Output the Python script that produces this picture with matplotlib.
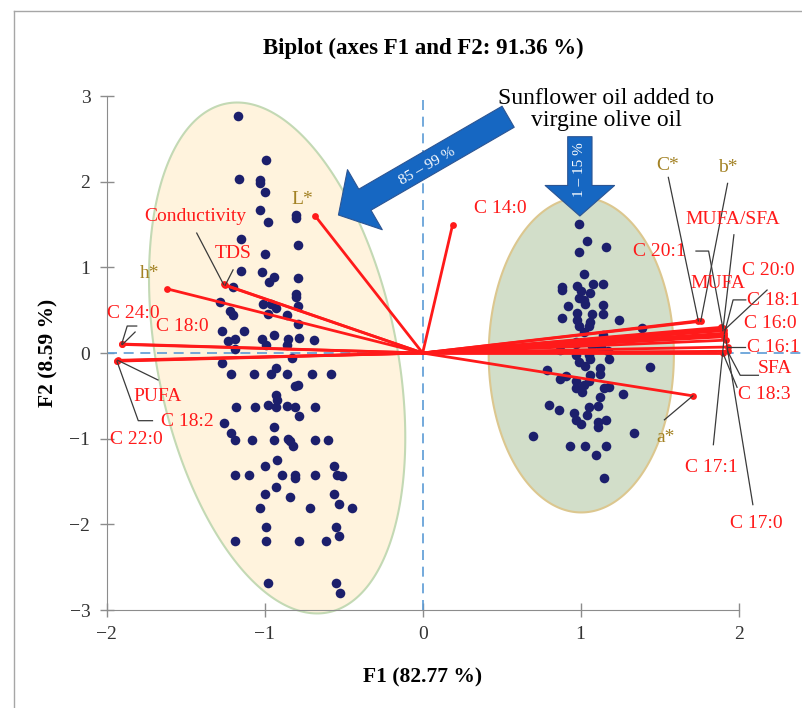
import numpy as np
import matplotlib.pyplot as plt
from matplotlib.lines import Line2D
from matplotlib.patches import Polygon

plt.rcParams['font.family'] = ['Liberation Serif', 'DejaVu Serif']

# Observations: virgin olive oil samples (left group)
olive_f1 = [-1.17, -0.99, -1.16, -1.03, -1.03, -1.00, -1.03, -0.98, -0.80, -0.80,
            -1.15, -0.79, -1.00, -1.15, -1.02, -0.94, -0.97, -0.79, -1.20, -0.80,
            -0.80, -1.28, -1.01, -0.96, -0.93, -0.79, -1.22, -1.20, -0.98, -0.86,
            -0.79, -1.27, -1.13, -0.94, -1.23, -1.19, -1.02, -0.99, -0.85, -0.86,
            -0.78, -0.69, -1.19, -0.83, -1.27, -1.21, -1.07, -0.96, -0.93, -0.86,
            -0.70, -0.58, -0.81, -0.79, -0.93, -0.92, -1.18, -1.06, -0.98, -0.93,
            -0.86, -0.81, -0.68, -0.78, -1.26, -0.94, -1.21, -1.19, -1.08, -0.94,
            -0.85, -0.84, -0.82, -0.68, -0.60, -0.92, -1.00, -0.56, -1.19, -1.10,
            -0.89, -0.81, -0.81, -0.68, -0.54, -0.51, -0.93, -1.00, -0.84, -0.56,
            -0.53, -1.03, -0.71, -0.45, -0.99, -0.55, -0.53, -1.19, -0.99, -0.78,
            -0.61, -0.98, -0.55, -0.52]
olive_f2 = [2.77, 2.25, 2.03, 2.02, 1.99, 1.88, 1.67, 1.53, 1.61, 1.58,
            1.33, 1.26, 1.15, 0.96, 0.94, 0.89, 0.83, 0.87, 0.77, 0.69,
            0.65, 0.60, 0.57, 0.57, 0.53, 0.55, 0.49, 0.44, 0.46, 0.44,
            0.34, 0.26, 0.26, 0.21, 0.14, 0.16, 0.16, 0.09, 0.16, 0.09,
            0.18, 0.15, 0.05, -0.06, -0.12, -0.25, -0.24, -0.25, -0.18, -0.24,
            -0.24, -0.24, -0.39, -0.37, -0.49, -0.55, -0.63, -0.63, -0.61, -0.63,
            -0.62, -0.63, -0.63, -0.74, -0.82, -0.86, -0.93, -1.02, -1.02, -1.02,
            -1.00, -1.03, -1.09, -1.02, -1.02, -1.25, -1.32, -1.32, -1.42, -1.42,
            -1.42, -1.42, -1.46, -1.42, -1.42, -1.44, -1.56, -1.65, -1.68, -1.65,
            -1.76, -1.81, -1.81, -1.81, -2.03, -2.03, -2.14, -2.20, -2.20, -2.20,
            -2.20, -2.69, -2.69, -2.80]

# Observations: olive oil with added sunflower oil (right group)
blend_f1 = [0.99, 1.04, 0.99, 1.16, 1.02, 0.88, 0.88, 0.98, 1.08, 1.14,
            1.00, 1.06, 0.99, 1.02, 0.92, 1.03, 1.14, 1.14, 0.98, 1.07,
            0.88, 0.98, 1.06, 1.24, 0.99, 1.05, 1.02, 1.39, 1.14, 0.97,
            0.97, 1.07, 1.13, 0.87, 1.17, 0.97, 1.05, 1.18, 0.99, 1.06,
            1.03, 0.79, 1.12, 1.12, 1.44, 0.91, 0.87, 1.06, 0.97, 1.05,
            1.02, 0.97, 1.01, 1.15, 1.18, 1.27, 1.12, 0.80, 0.86, 1.05,
            1.11, 0.96, 1.04, 0.97, 1.00, 1.11, 1.16, 1.11, 0.70, 1.34,
            0.93, 1.03, 1.16, 1.10, 1.15]
blend_f2 = [1.51, 1.31, 1.18, 1.24, 0.92, 0.77, 0.73, 0.78, 0.81, 0.81,
            0.72, 0.70, 0.64, 0.62, 0.55, 0.57, 0.56, 0.46, 0.47, 0.46,
            0.41, 0.38, 0.36, 0.38, 0.31, 0.32, 0.24, 0.29, 0.21, 0.13,
            0.10, 0.08, 0.07, 0.04, 0.02, -0.02, -0.02, -0.07, -0.10, -0.07,
            -0.15, -0.20, -0.18, -0.24, -0.16, -0.27, -0.30, -0.26, -0.33, -0.33,
            -0.37, -0.41, -0.45, -0.41, -0.40, -0.48, -0.51, -0.61, -0.66, -0.63,
            -0.62, -0.70, -0.72, -0.78, -0.83, -0.80, -0.78, -0.86, -0.97, -0.93,
            -1.09, -1.09, -1.09, -1.19, -1.46]

# Variables (loadings)
var_names = ['L*', 'C 14:0', 'h*', 'Conductivity', 'TDS', 'C 24:0', 'C 18:0',
             'C 22:0', 'PUFA', 'C 18:2', 'C*', 'b*', 'MUFA', 'C 20:1', 'C 20:0',
             'MUFA/SFA', 'C 18:1', 'C 17:1', 'C 16:0', 'C 17:0', 'C 16:1', 'SFA',
             'C 18:3', 'a*']
var_f1 = [-0.68, 0.19, -1.62, -1.26, -1.25, -1.905, -1.90,
          -1.935, -1.93, -1.935, 1.745, 1.76, 1.89, 1.90, 1.91,
          1.90, 1.91, 1.91, 1.91, 1.92, 1.93, 1.93,
          1.90, 1.71]
var_f2 = [1.60, 1.50, 0.75, 0.80, 0.79, 0.105, 0.10,
          -0.09, -0.085, -0.095, 0.375, 0.37, 0.30, 0.29, 0.27,
          0.26, 0.23, 0.21, 0.19, 0.15, 0.07, 0.02,
          0.00, -0.50]
color_vars = ['L*', 'a*', 'b*', 'C*', 'h*']

# Label placement (F1, F2, alignment) and leader-line bends
label_pos = {
    'L*': (-0.76, 1.79, 'center'), 'C 14:0': (0.49, 1.69, 'center'),
    'h*': (-1.73, 0.93, 'center'), 'Conductivity': (-1.44, 1.59, 'center'),
    'TDS': (-1.20, 1.16, 'center'), 'C 24:0': (-1.83, 0.46, 'center'),
    'C 18:0': (-1.52, 0.31, 'center'), 'C 22:0': (-1.81, -1.01, 'center'),
    'PUFA': (-1.68, -0.51, 'center'), 'C 18:2': (-1.49, -0.80, 'center'),
    'C*': (1.55, 2.19, 'center'), 'b*': (1.93, 2.17, 'center'),
    'MUFA': (1.87, 0.81, 'center'), 'C 20:1': (1.50, 1.18, 'center'),
    'C 20:0': (2.19, 0.96, 'center'), 'MUFA/SFA': (1.96, 1.56, 'center'),
    'C 18:1': (2.055, 0.61, 'left'), 'C 17:1': (1.83, -1.34, 'center'),
    'C 16:0': (2.20, 0.35, 'center'), 'C 17:0': (2.11, -1.99, 'center'),
    'C 16:1': (2.05, 0.07, 'left'), 'SFA': (2.23, -0.18, 'center'),
    'C 18:3': (2.16, -0.49, 'center'), 'a*': (1.54, -0.99, 'center'),
}
leaders = {
    'Conductivity': [(-1.43, 1.40)], 'TDS': [(-1.20, 0.97)],
    'C 24:0': [(-1.81, 0.315), (-1.87, 0.315)], 'C 18:0': [(-1.82, 0.245)],
    'PUFA': [(-1.675, -0.315)], 'C 18:2': [(-1.71, -0.79), (-1.80, -0.79)],
    'C*': [(1.555, 2.05)], 'b*': [(1.93, 1.98)],
    'MUFA/SFA': [(1.97, 1.38)], 'C 20:1': [(1.73, 1.19), (1.81, 1.19)],
    'C 20:0': [(2.18, 0.735)], 'C 18:1': [(2.045, 0.62), (1.965, 0.62)],
    'C 16:1': [(2.04, 0.07)], 'SFA': [(2.125, -0.26), (2.01, -0.26)],
    'C 18:3': [(1.99, -0.40)], 'C 17:1': [(1.84, -1.07)],
    'C 17:0': [(2.09, -1.77)], 'a*': [(1.53, -0.78)],
}

# Highlight ellipses: centre, half-extents along F1/F2 and correlation
ellipses = [
    dict(c=(-0.921, -0.058), s=(0.811, 2.982), rho=-0.312, fc='#FFF3DD', ec='#C3D9B4'),
    dict(c=(1.004, -0.023), s=(0.586, 1.838), rho=0.0, fc='#D2DEC9', ec='#DCC78F'),
]

# Blue block arrows: tail, tip, text, text rotation
arrows = [
    dict(tail=(0.541, 2.758), tip=(-0.533, 1.611), text='85 – 99 %', tpos=(0.03, 2.18), rot=30),
    dict(tail=(0.995, 2.525), tip=(0.995, 1.599), text='1 – 15 %', tpos=(0.993, 2.14), rot=90),
]

red = '#FF1A1A'
olive = '#A38224'
navy = '#1C1F6C'

fig = plt.figure(figsize=(8.02, 7.08), dpi=100)
ax = fig.add_axes([0.1330, 0.1384, 0.8668, 0.7260])
ax.set_xlim(-2, 2.4)
ax.set_ylim(-3, 3)

for e in ellipses:
    t = np.linspace(0, 2 * np.pi, 300)
    ex = e['c'][0] + e['s'][0] * np.cos(t)
    ey = e['c'][1] + e['s'][1] * (e['rho'] * np.cos(t) + np.sqrt(1 - e['rho'] ** 2) * np.sin(t))
    ax.add_patch(Polygon(np.column_stack([ex, ey]), closed=True, fc=e['fc'], ec=e['ec'],
                         lw=1.5, zorder=1, clip_on=False))

# reference dashed lines
ax.plot([0, 0], [-3, 3], ls=(0, (6, 4)), color='#5B9BD5', lw=1.2, zorder=2)
ax.plot([-2, 2.4], [0, 0], ls=(0, (6, 4)), color='#5B9BD5', lw=1.2, zorder=2)

ax.scatter(olive_f1, olive_f2, s=48, color=navy, zorder=3, linewidths=0)
ax.scatter(blend_f1, blend_f2, s=48, color=navy, zorder=3, linewidths=0)

for name, x, y in zip(var_names, var_f1, var_f2):
    ax.plot([0, x], [0, y], color=red, lw=2.0, zorder=4, solid_capstyle='round')
ax.scatter(var_f1, var_f2, s=24, color=red, zorder=5, linewidths=0)

for name, x, y in zip(var_names, var_f1, var_f2):
    lx, ly, ha = label_pos[name]
    c = olive if name in color_vars else red
    if name in leaders:
        pts = leaders[name] + [(x, y)]
        ax.plot([p[0] for p in pts], [p[1] for p in pts], color='#3A3A3A', lw=0.9,
                zorder=6, clip_on=False)
    ax.text(lx, ly, name, color=c, fontsize=14, ha=ha, va='center', zorder=7, clip_on=False)

for a in arrows:
    ax.annotate('', xy=a['tip'], xytext=a['tail'], annotation_clip=False, zorder=8,
                arrowprops=dict(arrowstyle='simple,head_length=22,head_width=50,tail_width=17.5',
                                mutation_scale=1, fc='#1667C2', ec='#2C5593', lw=0.8,
                                shrinkA=0, shrinkB=0))
    ax.text(a['tpos'][0], a['tpos'][1], a['text'], color='white', fontsize=11,
            rotation=a['rot'], ha='center', va='center', zorder=9)

ax.text(1.162, 2.842, 'Sunflower oil added to\nvirgine olive oil', fontsize=17,
        ha='center', va='center', linespacing=1.05, zorder=10, clip_on=False)

for side in ['top', 'right']:
    ax.spines[side].set_visible(False)
for side in ['left', 'bottom']:
    ax.spines[side].set_color('#8C8C8C')
ax.spines['left'].set_bounds(-3, 3)
ax.spines['bottom'].set_bounds(-2, 2)
ax.set_xticks([-2, -1, 0, 1, 2])
ax.set_yticks([-3, -2, -1, 0, 1, 2, 3])
ax.set_xticklabels(['−2', '−1', '0', '1', '2'])
ax.set_yticklabels(['−3', '−2', '−1', '0', '1', '2', '3'])
ax.tick_params(direction='inout', length=9.5, width=1, color='#8C8C8C',
               labelsize=14, labelcolor='#333333', pad=7)
ax.patch.set_visible(False)

fig.text(0.5274, 0.9322, 'Biplot (axes F1 and F2: 91.36 %)', fontsize=16.5,
         fontweight='bold', ha='center', va='center')
fig.text(0.5274, 0.0438, 'F1 (82.77 %)', fontsize=15.5, fontweight='bold',
         ha='center', va='center')
fig.text(0.0599, 0.5014, 'F2 (8.59 %)', fontsize=15.5, fontweight='bold',
         ha='center', va='center', rotation=90)

# outer chart frame
fig.add_artist(Line2D([14 / 802, 14 / 802], [0, 1 - 11 / 708], transform=fig.transFigure,
                      color='#A6A6A6', lw=1))
fig.add_artist(Line2D([14 / 802, 1], [1 - 11 / 708, 1 - 11 / 708], transform=fig.transFigure,
                      color='#A6A6A6', lw=1))

fig.savefig('out.png', dpi=100)
